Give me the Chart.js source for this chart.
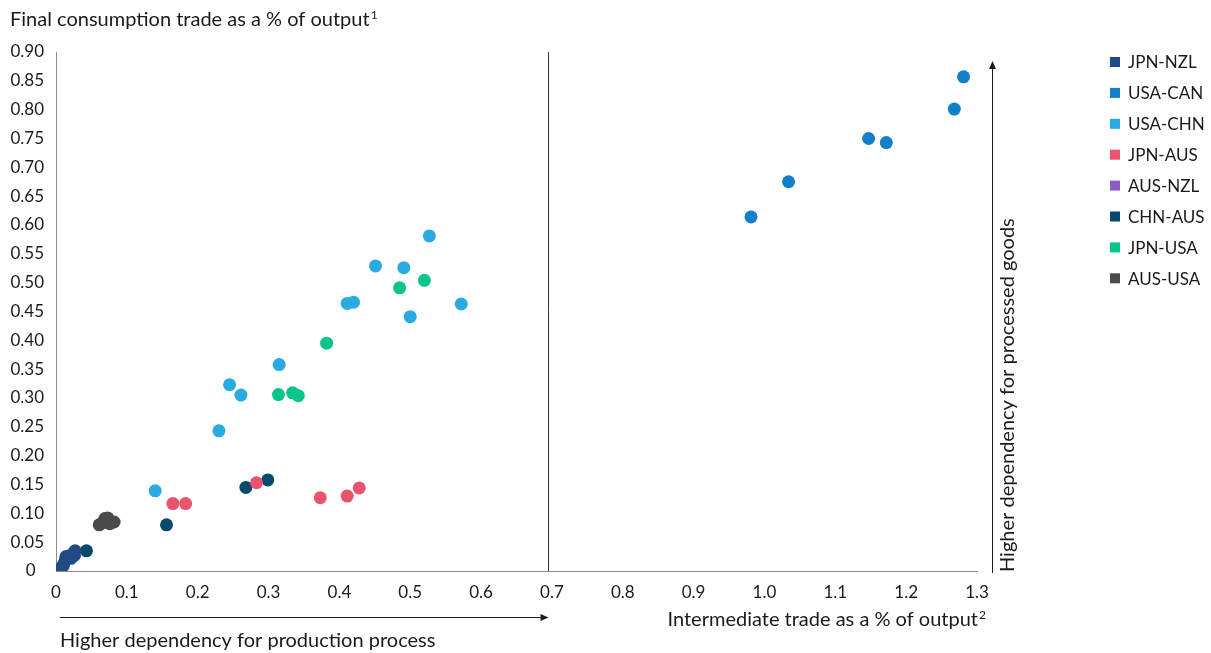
<!DOCTYPE html>
<html>
<head>
<meta charset="utf-8">
<script src="https://cdn.jsdelivr.net/npm/chart.js@4.4.1/dist/chart.umd.min.js"></script>
<style>
  html, body { margin: 0; padding: 0; background: #fff; }
  #wrap { width: 1211px; height: 653px; position: relative; }
</style>
</head>
<body>
<div id="wrap"><canvas id="grafico" width="1211" height="653"></canvas></div>
<script>
// Series (country pairs) and their points: [intermediate %, final consumption %]
const seriesNames = ['JPN-NZL', 'USA-CAN', 'USA-CHN', 'JPN-AUS', 'AUS-NZL', 'CHN-AUS', 'JPN-USA', 'AUS-USA'];

const jpnNzl = [[0.008, 0.006], [0.011, 0.012], [0.013, 0.018], [0.015, 0.023], [0.018, 0.026],
                [0.021, 0.022], [0.022, 0.028], [0.025, 0.031], [0.026, 0.027], [0.027, 0.035], [0.014, 0.025]];
const usaCan = [[0.981, 0.614], [1.034, 0.675], [1.147, 0.750], [1.172, 0.743], [1.268, 0.801], [1.281, 0.857]];
const usaChn = [[0.140, 0.139], [0.230, 0.243], [0.245, 0.323], [0.261, 0.305], [0.315, 0.358],
                [0.411, 0.464], [0.420, 0.466], [0.451, 0.529], [0.491, 0.526], [0.500, 0.441],
                [0.527, 0.581], [0.572, 0.463]];
const jpnAus = [[0.165, 0.117], [0.183, 0.117], [0.283, 0.153], [0.373, 0.127], [0.411, 0.130], [0.428, 0.144]];
const ausNzl = [[0.006, 0.004], [0.010, 0.008]];
const chnAus = [[0.006, 0.004], [0.043, 0.035], [0.156, 0.080], [0.268, 0.145], [0.299, 0.158]];
const jpnUsa = [[0.314, 0.306], [0.334, 0.309], [0.342, 0.304], [0.382, 0.395], [0.485, 0.491], [0.520, 0.504]];
const ausUsa = [[0.061, 0.080], [0.069, 0.091], [0.073, 0.092], [0.076, 0.082], [0.082, 0.085], [0.066, 0.084]];

const seriesPoints = [jpnNzl, usaCan, usaChn, jpnAus, ausNzl, chnAus, jpnUsa, ausUsa];
const seriesColors = ['#1f4a85', '#127fc8', '#29abe2', '#e8546d', '#8a5cc6', '#034a6d', '#0bc48a', '#4a4a4a'];

const xTickLabels = ['0', '0.1', '0.2', '0.3', '0.4', '0.5', '0.6', '0.7', '0.8', '0.9', '1.0', '1.1', '1.2', '1.3'];
const yTickLabels = ['0\u2002', '0.05', '0.10', '0.15', '0.20', '0.25', '0.30', '0.35', '0.40', '0.45',
                     '0.50', '0.55', '0.60', '0.65', '0.70', '0.75', '0.80', '0.85', '0.90'];

const splitAt = 0.695; // linea vertical entre los dos grupos
const FONT = 'Lato, "Open Sans", sans-serif';
const INK = '#1a1a1a';

function arrow(ctx, x1, y1, x2, y2) {
  const ang = Math.atan2(y2 - y1, x2 - x1);
  const len = 8, w = 3.5;
  ctx.beginPath();
  ctx.moveTo(x1, y1);
  ctx.lineTo(x2 - Math.cos(ang) * len, y2 - Math.sin(ang) * len);
  ctx.stroke();
  ctx.beginPath();
  ctx.moveTo(x2, y2);
  ctx.lineTo(x2 - Math.cos(ang) * len - Math.sin(ang) * w, y2 - Math.sin(ang) * len + Math.cos(ang) * w);
  ctx.lineTo(x2 - Math.cos(ang) * len + Math.sin(ang) * w, y2 - Math.sin(ang) * len - Math.cos(ang) * w);
  ctx.closePath();
  ctx.fill();
}

function textWithSup(ctx, main, sup, x, y, size, align) {
  ctx.font = size + 'px ' + FONT;
  const wMain = ctx.measureText(main).width;
  ctx.font = Math.round(size * 0.6) + 'px ' + FONT;
  const wSup = ctx.measureText(sup).width;
  let start = align === 'right' ? x - wMain - wSup - 1 : x;
  ctx.textAlign = 'left';
  ctx.textBaseline = 'middle';
  ctx.font = size + 'px ' + FONT;
  ctx.fillText(main, start, y);
  ctx.font = Math.round(size * 0.6) + 'px ' + FONT;
  ctx.fillText(sup, start + wMain + 1, y - size * 0.25);
}

const extras = {
  id: 'extras',
  afterDraw(chart) {
    const ctx = chart.ctx;
    const xs = chart.scales.x;
    const area = chart.chartArea;
    ctx.save();
    ctx.fillStyle = INK;
    ctx.strokeStyle = INK;
    ctx.lineWidth = 1;

    // linea divisoria
    const xv = Math.round(xs.getPixelForValue(splitAt)) + 0.5;
    ctx.strokeStyle = '#333';
    ctx.beginPath();
    ctx.moveTo(xv, area.top);
    ctx.lineTo(xv, area.bottom);
    ctx.stroke();

    // flechas
    ctx.strokeStyle = INK;
    arrow(ctx, area.left + 4, 617.5, xv, 617.5);
    arrow(ctx, 992.5, 573, 992.5, 61);

    // titulos
    textWithSup(ctx, 'Final consumption trade as a % of output', '1', 10, 20, 20, 'left');
    textWithSup(ctx, 'Intermediate trade as a % of output', '2', 986, 620, 20, 'right');
    ctx.font = '20px ' + FONT;
    ctx.textAlign = 'left';
    ctx.textBaseline = 'middle';
    ctx.fillText('Higher dependency for production process', 60, 641);

    ctx.save();
    ctx.translate(1008, 572);
    ctx.rotate(-Math.PI / 2);
    ctx.fillText('Higher dependency for processed goods', 0, 0);
    ctx.restore();

    // leyenda
    ctx.font = '17px ' + FONT;
    seriesNames.forEach((name, i) => {
      const y = 62 + i * 30.9;
      ctx.fillStyle = seriesColors[i];
      ctx.fillRect(1110, y - 5, 10, 10);
      ctx.fillStyle = INK;
      ctx.fillText(name, 1128, y + 1);
    });
    ctx.restore();
  }
};

const ctx = document.getElementById('grafico').getContext('2d');
new Chart(ctx, {
  type: 'scatter',
  data: {
    datasets: seriesNames.map((name, i) => ({
      label: name,
      data: seriesPoints[i].map(p => ({ x: p[0], y: p[1] })),
      backgroundColor: seriesColors[i],
      borderColor: seriesColors[i],
      borderWidth: 0,
      pointRadius: 6.5,
      pointHoverRadius: 6.5
    }))
  },
  options: {
    responsive: false,
    animation: false,
    devicePixelRatio: 1,
    layout: { padding: { left: 0, top: 52, right: 234, bottom: 0 } },
    plugins: { legend: { display: false }, tooltip: { enabled: false } },
    scales: {
      x: {
        type: 'linear',
        min: 0, max: 1.3,
        afterFit: s => { s.height = 82; },
        grid: { display: false, drawTicks: false },
        border: { display: true, color: '#8c8c8c', width: 1 },
        ticks: {
          stepSize: 0.1,
          padding: 11,
          color: INK,
          font: { family: FONT, size: 17 },
          maxRotation: 0,
          autoSkip: false,
          callback: (v, i) => xTickLabels[i]
        }
      },
      y: {
        type: 'linear',
        min: 0, max: 0.9,
        afterFit: s => { s.width = 56; },
        grid: { display: false, drawTicks: false },
        border: { display: true, color: '#8c8c8c', width: 1 },
        ticks: {
          stepSize: 0.05,
          padding: 12,
          color: INK,
          font: { family: FONT, size: 17 },
          autoSkip: false,
          callback: (v, i) => yTickLabels[i]
        }
      }
    }
  },
  plugins: [extras]
});
</script>
</body>
</html>
